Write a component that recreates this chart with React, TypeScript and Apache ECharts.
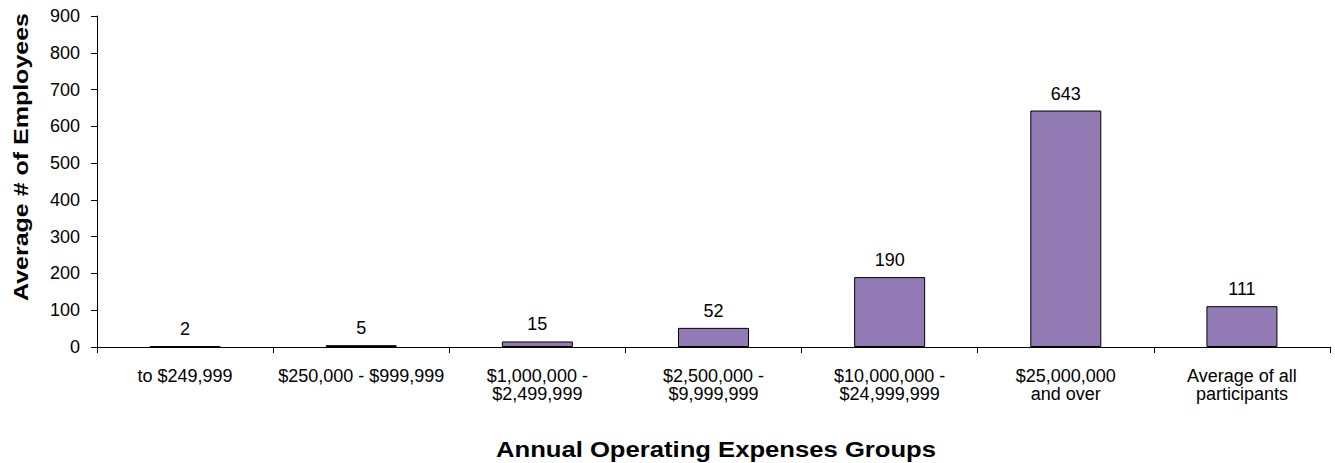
import React, { useEffect, useRef } from "react";
import * as echarts from "echarts";

const categories = [
  "to $249,999",
  "$250,000 - $999,999",
  "$1,000,000 -\n$2,499,999",
  "$2,500,000 -\n$9,999,999",
  "$10,000,000 -\n$24,999,999",
  "$25,000,000\nand over",
  "Average of all\nparticipants",
];
const values = [2, 5, 15, 52, 190, 643, 111];
const yTitle = "Average # of Employees";
const xTitle = "Annual Operating Expenses Groups";

const FONT = "'Liberation Sans', Arial, sans-serif";

export default function App() {
  const ref = useRef<HTMLDivElement>(null);
  useEffect(() => {
    if (!ref.current) return;
    const chart = echarts.init(ref.current, undefined, { renderer: "svg" });
    chart.setOption({
      animation: false,
      textStyle: { fontFamily: FONT },
      grid: { left: 97, right: 5, top: 16, bottom: 116, containLabel: false },
      xAxis: {
        type: "category",
        data: categories,
        axisLine: { lineStyle: { color: "#000", width: 1 } },
        axisTick: { show: true, alignWithLabel: false, length: 6, lineStyle: { color: "#000" } },
        axisLabel: {
          color: "#000",
          fontSize: 18,
          fontFamily: FONT,
          margin: 20,
          lineHeight: 18,
          interval: 0,
        },
      },
      yAxis: {
        type: "value",
        min: 0,
        max: 900,
        interval: 100,
        splitLine: { show: false },
        axisLine: { show: true, lineStyle: { color: "#000", width: 1 } },
        axisTick: { show: true, length: 6, lineStyle: { color: "#000" } },
        axisLabel: { color: "#000", fontSize: 18, fontFamily: FONT, margin: 17 },
      },
      graphic: [
        {
          type: "text",
          x: 21,
          y: 157,
          rotation: Math.PI / 2,
          scaleX: 1.19,
          style: {
            text: yTitle,
            fontSize: 21,
            fontWeight: "bold",
            fontFamily: FONT,
            fill: "#000",
            align: "center",
            verticalAlign: "middle",
          },
        },
        {
          type: "text",
          x: 716,
          y: 449,
          scaleX: 1.166,
          style: {
            text: xTitle,
            fontSize: 22,
            fontWeight: "bold",
            fontFamily: FONT,
            fill: "#000",
            align: "center",
            verticalAlign: "middle",
          },
        },
      ],
      series: [
        {
          type: "bar",
          data: values,
          barWidth: 71,
          itemStyle: { color: "#927bb4", borderColor: "#000", borderWidth: 1 },
          label: {
            show: true,
            position: "top",
            distance: 8,
            color: "#000",
            fontSize: 18,
            fontFamily: FONT,
          },
        },
      ],
    });
    return () => chart.dispose();
  }, []);
  return <div ref={ref} style={{ width: 1335, height: 463, position: "absolute", left: 0, top: 0 }} />;
}
